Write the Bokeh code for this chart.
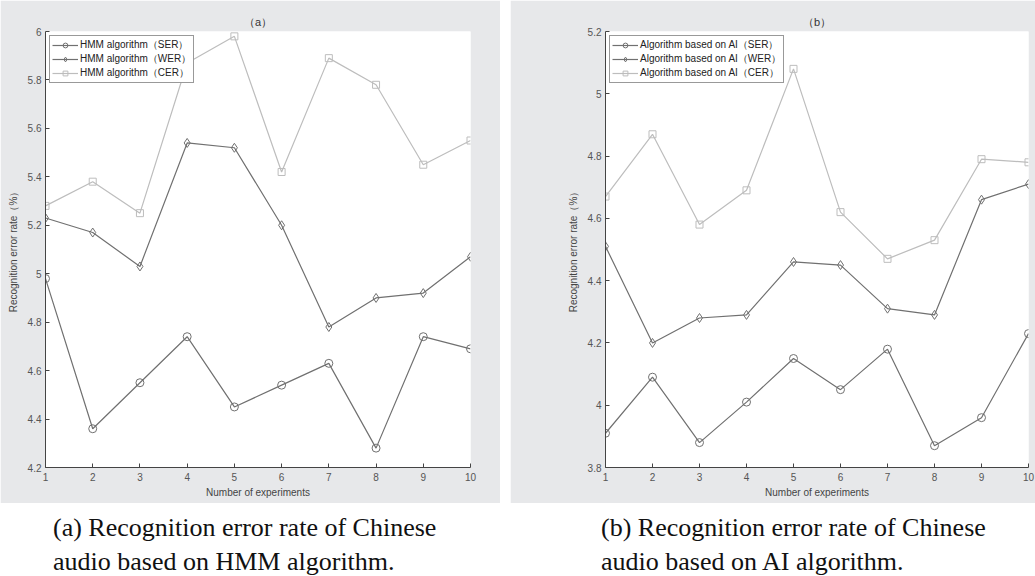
from bokeh.plotting import figure
from bokeh.models import FixedTicker, CustomJSTickFormatter, Div, Spacer, Range1d
from bokeh.layouts import row, column
from bokeh.embed import file_html
from bokeh.resources import INLINE

experiments = [1, 2, 3, 4, 5, 6, 7, 8, 9, 10]

hmm_ser = [4.98, 4.36, 4.55, 4.74, 4.45, 4.54, 4.63, 4.28, 4.74, 4.69]
hmm_wer = [5.23, 5.17, 5.03, 5.54, 5.52, 5.20, 4.78, 4.90, 4.92, 5.07]
hmm_cer = [5.28, 5.38, 5.25, 5.87, 5.98, 5.42, 5.89, 5.78, 5.45, 5.55]

ai_ser = [3.91, 4.09, 3.88, 4.01, 4.15, 4.05, 4.18, 3.87, 3.96, 4.23]
ai_wer = [4.51, 4.20, 4.28, 4.29, 4.46, 4.45, 4.31, 4.29, 4.66, 4.71]
ai_cer = [4.67, 4.87, 4.58, 4.69, 5.08, 4.62, 4.47, 4.53, 4.79, 4.78]

hmm_labels = ["HMM algorithm（SER）", "HMM algorithm（WER）", "HMM algorithm（CER）"]
ai_labels = ["Algorithm based on AI（SER）", "Algorithm based on AI（WER）", "Algorithm based on AI（CER）"]

hmm_yticks = [4.2, 4.4, 4.6, 4.8, 5.0, 5.2, 5.4, 5.6, 5.8, 6.0]
ai_yticks = [3.8, 4.0, 4.2, 4.4, 4.6, 4.8, 5.0, 5.2]

caption_a = ["(a) Recognition error rate of Chinese", "audio based on HMM algorithm."]
caption_b = ["(b) Recognition error rate of Chinese", "audio based on AI algorithm."]

GRAY = "#e7e8ea"
DARK = "#707070"
LIGHT = "#bdbdbd"
SANS = "Liberation Sans"


def make_panel(title, series, labels, yr, yticks, width, bl, br):
    p = figure(width=width, height=503, output_backend="svg", toolbar_location=None,
               x_range=Range1d(1, 10), y_range=Range1d(yr[0], yr[1]),
               min_border_left=bl, min_border_right=br, min_border_top=31, min_border_bottom=36,
               border_fill_color=GRAY, background_fill_color="white", outline_line_color=None,
               title=title)
    p.title.align = "center"
    p.title.text_font_size = "11px"
    p.title.text_font_style = "normal"
    p.title.text_color = "#333333"
    p.title.text_font = SANS
    p.title.standoff = 7
    p.grid.visible = False

    p.xaxis.ticker = FixedTicker(ticks=experiments)
    p.yaxis.ticker = FixedTicker(ticks=yticks)
    p.yaxis.formatter = CustomJSTickFormatter(code="return String(Number(tick.toFixed(1)));")
    for ax in (p.xaxis, p.yaxis):
        ax.axis_line_color = "#444444"
        ax.major_tick_line_color = "#444444"
        ax.major_tick_in = 4
        ax.major_tick_out = 0
        ax.minor_tick_line_color = None
        ax.major_label_text_font_size = "10px"
        ax.major_label_text_color = "#555555"
        ax.major_label_text_font = SANS
        ax.axis_label_text_font_size = "10px"
        ax.axis_label_text_color = "#444444"
        ax.axis_label_text_font_style = "normal"
        ax.axis_label_text_font = SANS
    p.xaxis.axis_label = "Number of experiments"
    p.yaxis.axis_label = "Recognition error rate（%）"
    p.xaxis.major_label_standoff = 5
    p.xaxis.axis_label_standoff = 3
    p.yaxis.major_label_standoff = 4
    p.yaxis.axis_label_standoff = 6

    markers = ["circle", "diamond", "square"]
    colors = [DARK, DARK, LIGHT]
    sizes = [8, 9, 7]
    for ys, lab, mk, col, sz in zip(series, labels, markers, colors, sizes):
        p.line(experiments, ys, line_color=col, line_width=1.2, legend_label=lab)
        p.scatter(experiments, ys, marker=mk, size=sz, line_color=col, fill_color=None,
                  line_width=1, legend_label=lab)

    lg = p.legend[0]
    lg.location = "top_left"
    lg.margin = 4
    lg.padding = 2
    lg.spacing = 0
    lg.label_text_font_size = "10px"
    lg.label_text_font = SANS
    lg.label_text_color = "#222222"
    lg.label_height = 12
    lg.glyph_height = 12
    lg.glyph_width = 26
    lg.label_standoff = 2
    lg.border_line_color = "#333333"
    lg.border_line_width = 1
    lg.background_fill_color = "white"
    lg.background_fill_alpha = 1
    return p


fa = make_panel("（a）", [hmm_ser, hmm_wer, hmm_cer], hmm_labels, (4.2, 6.0), hmm_yticks, 500, 45, 30)
fb = make_panel("（b）", [ai_ser, ai_wer, ai_cer], ai_labels, (3.8, 5.2), ai_yticks, 525, 95, 7)


def caption(lines, width, pad):
    html = ('<div style="font-family:\'Liberation Serif\',serif;font-size:26px;line-height:34px;'
            'color:#111;padding-left:%dpx;padding-top:8px;white-space:nowrap;">%s</div>'
            % (pad, "<br>".join(lines)))
    return Div(text=html, width=width, height=72, margin=(0, 0, 0, 0))


layout = column(
    row(fa, Spacer(width=10, height=503), fb, spacing=0),
    row(caption(caption_a, 510, 53), caption(caption_b, 525, 91), spacing=0),
    spacing=0,
)

open("out.html", "w").write(file_html(layout, INLINE))
